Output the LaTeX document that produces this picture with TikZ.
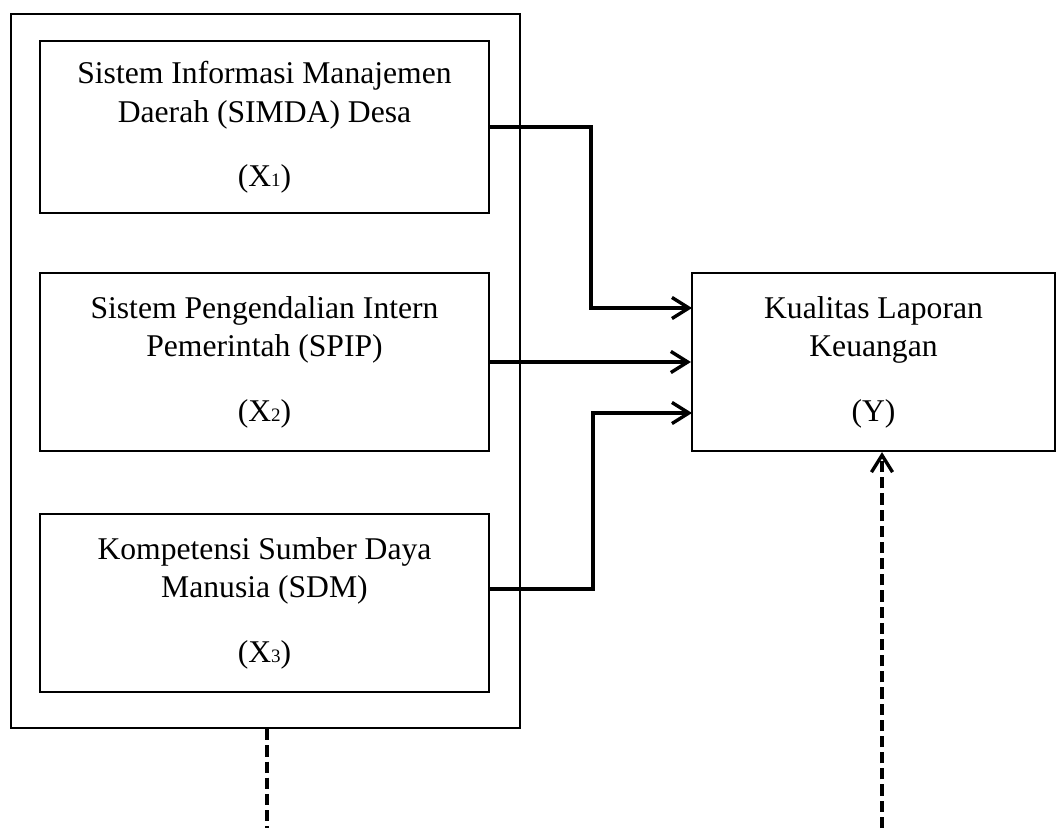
\documentclass[tikz,border=0pt]{standalone}
\usepackage{fontspec}
\setmainfont{Liberation Serif}
\usetikzlibrary{arrows.meta}
\newcommand{\kecil}[1]{{\fontsize{13.5pt}{13.5pt}\selectfont #1}}

\begin{document}
\begin{tikzpicture}[x=0.025cm,y=-0.025cm,
	kotak/.style={draw,line width=1.5pt,align=center,inner sep=0pt,
		font=\fontsize{22.5pt}{27.7pt}\selectfont},
	panah/.style={line width=2.4pt,-{Straight Barb[length=12pt,width=15pt]}},
	putus/.style={line width=2.4pt,dash pattern=on 8pt off 3.5pt}]
	\useasboundingbox (0,0) rectangle (1057,828);
	%outer frame round the three variables
	\node[draw,line width=1.5pt,minimum width=12.725cm,minimum height=17.85cm] (grup) at (265.5,371) {};
	%independent variables
	\node[kotak,minimum width=11.225cm,minimum height=4.3cm] (simda) at (264.5,127)
		{Sistem Informasi Manajemen\\Daerah (SIMDA) Desa\\[18pt](X\kecil{1})};
	\node[kotak,minimum width=11.225cm,minimum height=4.45cm] (spip) at (264.5,362)
		{Sistem Pengendalian Intern\\Pemerintah (SPIP)\\[18pt](X\kecil{2})};
	\node[kotak,minimum width=11.225cm,minimum height=4.45cm] (sdm) at (264.5,603)
		{Kompetensi Sumber Daya\\Manusia (SDM)\\[18pt](X\kecil{3})};
	%dependent variable
	\node[kotak,minimum width=9.075cm,minimum height=4.45cm] (kualitas) at (873.5,362)
		{Kualitas Laporan\\Keuangan\\[18pt](Y)};
	%arrows X -> Y
	\coordinate (m1) at (692,308);
	\coordinate (m3) at (692,413);
	\coordinate (s3) at (489,589);
	\draw[panah] (simda.east) -| (591,308) -- (m1);
	\draw[panah] (spip.east) -- (kualitas.west);
	\draw[panah] (s3) -| (593,413) -- (m3);
	%dashed lines
	\coordinate (bawah1) at (267,828);
	\coordinate (bawah2) at (882,828);
	\draw[putus] (grup.south -| bawah1) -- (bawah1);
	\draw[putus,-{Straight Barb[length=12pt,width=15pt]}] (bawah2) -- (kualitas.south -| bawah2);
\end{tikzpicture}
\end{document}
